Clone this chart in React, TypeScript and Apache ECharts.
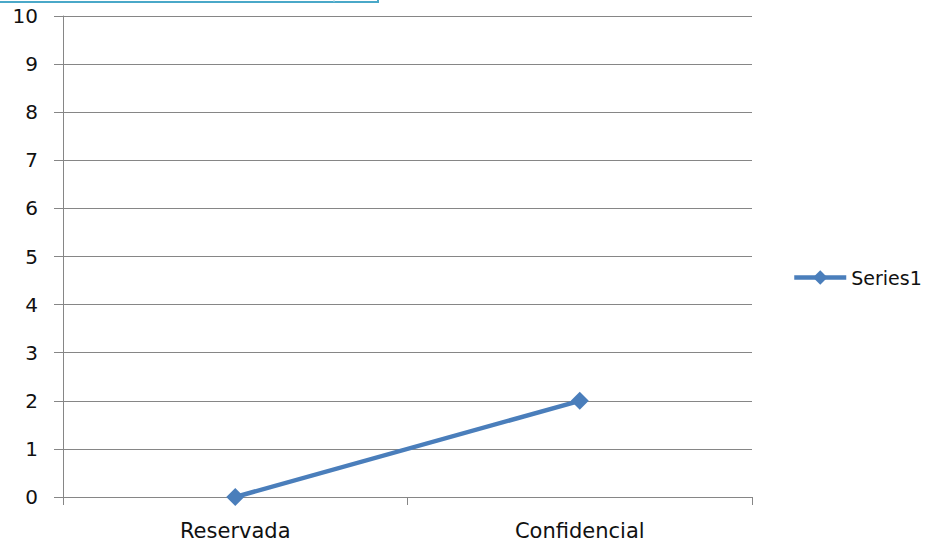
import React, { useEffect, useRef } from "react";
import * as echarts from "echarts";

const categories = ["Reservada", "Confidencial"];
const seriesName = "Series1";
const seriesValues = [0, 2];
const yMin = 0;
const yMax = 10;
const yInterval = 1;

export default function App() {
  const ref = useRef<HTMLDivElement>(null);
  useEffect(() => {
    if (!ref.current) return;
    const chart = echarts.init(ref.current, null, { renderer: "svg" });
    const font = "'DejaVu Sans', sans-serif";
    chart.setOption({
      animation: false,
      backgroundColor: "#ffffff",
      grid: { left: 63, right: 177, top: 16, bottom: 49, containLabel: false },
      legend: {
        data: [seriesName],
        left: 792,
        top: 268,
        itemWidth: 52,
        itemHeight: 18,
        itemGap: 0,
        padding: 0,
        lineStyle: { width: 4.5, color: "#4a7ebb" },
        textStyle: { fontFamily: font, fontSize: 19, color: "#111" },
        orient: "vertical",
      },
      xAxis: {
        type: "category",
        data: categories,
        boundaryGap: true,
        axisLine: { show: true, lineStyle: { color: "#868686", width: 1 } },
        axisTick: { show: true, length: 8, lineStyle: { color: "#868686" } },
        axisLabel: { fontFamily: font, fontSize: 21, color: "#111", margin: 23 },
      },
      yAxis: {
        type: "value",
        min: yMin,
        max: yMax,
        interval: yInterval,
        axisLine: { show: true, lineStyle: { color: "#868686", width: 1 } },
        axisTick: { show: true, length: 9, lineStyle: { color: "#868686" } },
        axisLabel: { fontFamily: font, fontSize: 20, color: "#111", margin: 25 },
        splitLine: { show: true, lineStyle: { color: "#868686", width: 1 } },
      },
      series: [
        {
          name: seriesName,
          type: "line",
          data: seriesValues,
          symbol: "diamond",
          symbolSize: 18,
          lineStyle: { color: "#4a7ebb", width: 4.5 },
          itemStyle: { color: "#4a7ebb" },
        },
      ],
      graphic: [
        {
          type: "rect",
          shape: { x: -5, y: -10, width: 383, height: 12 },
          style: { fill: "none", stroke: "#4aa8c8", lineWidth: 2 },
        },
        {
          type: "line",
          shape: { x1: 334, y1: 0, x2: 334, y2: 2 },
          style: { stroke: "#a8d4e4", lineWidth: 1 },
        },
      ],
    });
    return () => chart.dispose();
  }, []);
  return <div ref={ref} style={{ width: 929, height: 546, position: "absolute", left: 0, top: 0 }} />;
}
